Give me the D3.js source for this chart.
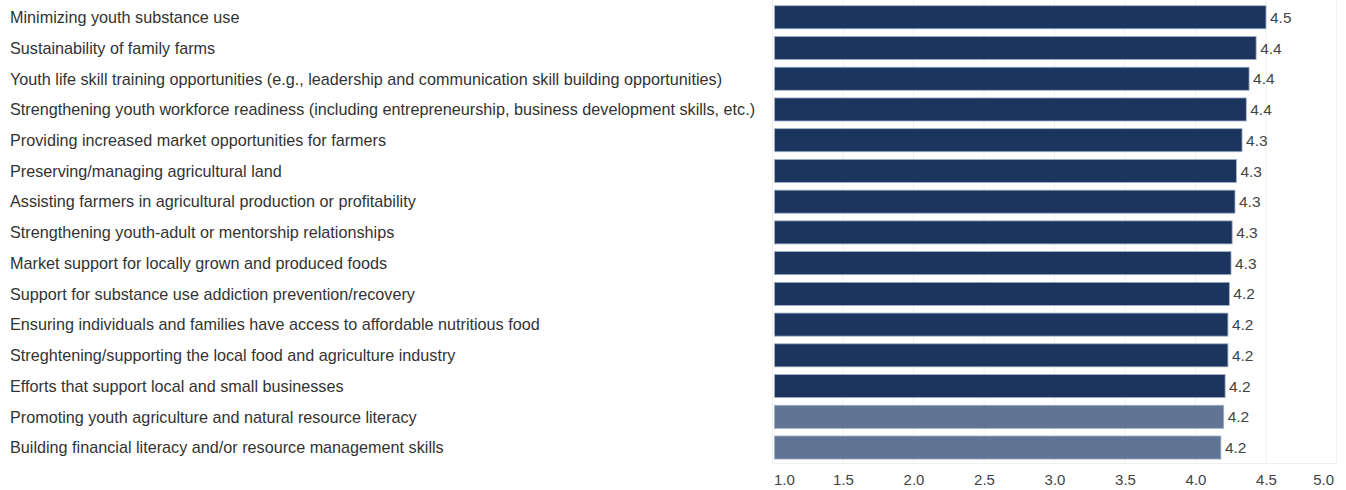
<!DOCTYPE html>
<html><head><meta charset="utf-8">
<script src="https://cdn.jsdelivr.net/npm/d3@7"></script>
<style>
html,body{margin:0;padding:0;background:#fff;}
svg{display:block;font-family:"Liberation Sans",Arial,sans-serif;}
</style></head>
<body><svg id="c" width="1346" height="490"></svg>
<script>
const categories = [
  "Minimizing youth substance use",
  "Sustainability of family farms",
  "Youth life skill training opportunities (e.g., leadership and communication skill building opportunities)",
  "Strengthening youth workforce readiness (including entrepreneurship, business development skills, etc.)",
  "Providing increased market opportunities for farmers",
  "Preserving/managing agricultural land",
  "Assisting farmers in agricultural production or profitability",
  "Strengthening youth-adult or mentorship relationships",
  "Market support for locally grown and produced foods",
  "Support for substance use addiction prevention/recovery",
  "Ensuring individuals and families have access to affordable nutritious food",
  "Streghtening/supporting the local food and agriculture industry",
  "Efforts that support local and small businesses",
  "Promoting youth agriculture and natural resource literacy",
  "Building financial literacy and/or resource management skills"
];
const values = [4.50, 4.43, 4.38, 4.36, 4.33, 4.29, 4.28, 4.26, 4.252, 4.24, 4.23, 4.23, 4.21, 4.20, 4.18];
const groups = ["dark","dark","dark","dark","dark","dark","dark","dark","dark","dark","dark","dark","dark","light","light"];
const xTicks = [1.0, 1.5, 2.0, 2.5, 3.0, 3.5, 4.0, 4.5, 5.0];

const svg = d3.select("#c");
const x = d3.scaleLinear().domain([1, 5]).range([772.5, 1336.5]);
const y = d3.scaleBand().domain(categories).range([1.9, 462.9]).paddingInner(0.25).paddingOuter(0.125);
const color = d3.scaleOrdinal().domain(["dark","light"]).range(["#1b355e","#607594"]);

// gridlines
svg.append("g").selectAll("line").data(xTicks).join("line")
  .attr("x1", d => x(d)).attr("x2", d => x(d))
  .attr("y1", 0).attr("y2", 463)
  .attr("stroke", "#f0f0f0").attr("stroke-width", 1);
svg.append("line").attr("x1", 772).attr("x2", 1336).attr("y1", 463.5).attr("y2", 463.5)
  .attr("stroke", "#f0f0f0");

// bars
svg.append("g").selectAll("rect").data(values).join("rect")
  .attr("x", x(1) + 2)
  .attr("y", (d, i) => y(categories[i]))
  .attr("width", d => x(d) - x(1) - 2)
  .attr("height", y.bandwidth())
  .attr("fill", (d, i) => color(groups[i]))
  .attr("stroke", "#9fb0c8").attr("stroke-width", 0.8);

// value labels
svg.append("g").selectAll("text").data(values).join("text")
  .attr("x", d => x(d) + 4)
  .attr("y", (d, i) => y(categories[i]) + y.bandwidth() / 2)
  .attr("dy", "0.36em")
  .attr("font-size", 15.5).attr("fill", "#444")
  .text(d => d3.format(".1f")(d));

// category labels
svg.append("g").selectAll("text").data(categories).join("text")
  .attr("x", 10)
  .attr("y", d => y(d) + y.bandwidth() / 2)
  .attr("dy", "0.36em")
  .attr("font-size", 16.2).attr("fill", "#333")
  .text(d => d);

// x axis tick labels
const axis = d3.axisBottom(x).tickValues(xTicks).tickFormat(d3.format(".1f")).tickSize(0).tickPadding(0);
const ag = svg.append("g").attr("transform", "translate(0,474)").call(axis);
ag.select(".domain").remove();
ag.selectAll("text").attr("font-size", 15).attr("fill", "#444")
  .attr("font-family", "'Liberation Sans',Arial,sans-serif")
  .attr("text-anchor", (d, i) => i === 0 ? "start" : (i === xTicks.length - 1 ? "end" : "middle"))
  .attr("dx", (d, i) => i === 0 ? 1 : (i === xTicks.length - 1 ? -3 : 0));
</script></body></html>
